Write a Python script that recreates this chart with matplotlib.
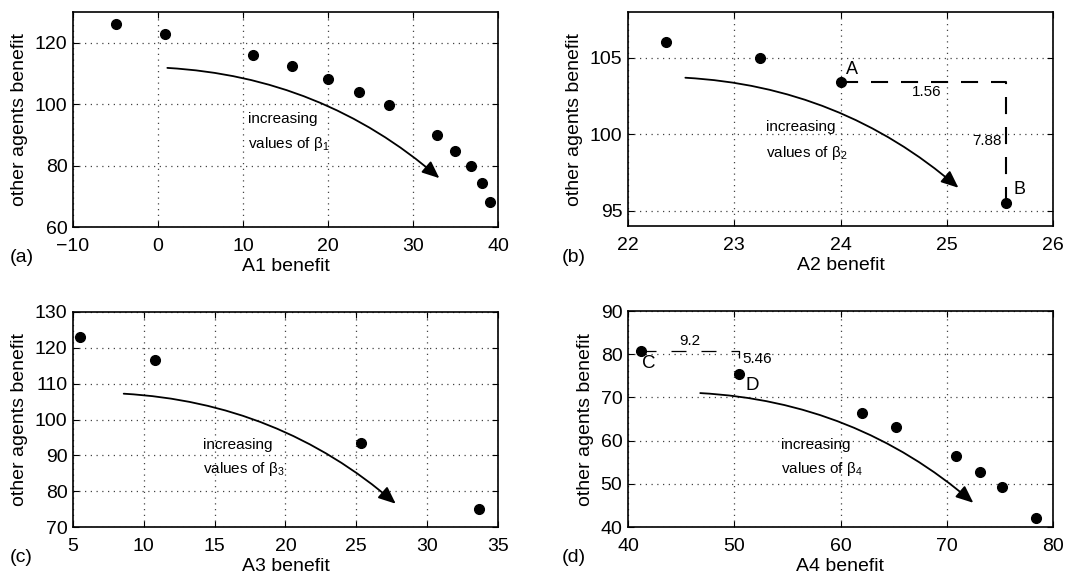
import matplotlib
matplotlib.use("Agg")
import matplotlib.pyplot as plt

plt.rcParams['font.family'] = ['Liberation Sans', 'DejaVu Sans']
plt.rcParams['mathtext.fontset'] = 'custom'
plt.rcParams['mathtext.rm'] = 'Liberation Sans'
plt.rcParams['mathtext.it'] = 'Liberation Sans:italic'

# ---- data ----
a1_x = [-5.0, 0.8, 11.2, 15.8, 20.0, 23.7, 27.2, 32.8, 35.0, 36.8, 38.1, 39.1]
a1_y = [126.0, 122.9, 116.0, 112.4, 108.3, 104.1, 99.7, 90.0, 84.8, 79.7, 74.2, 68.1]

a2_x = [22.36, 23.24, 24.00, 25.56]
a2_y = [106.05, 104.96, 103.40, 95.52]

a3_x = [5.47, 10.81, 25.3, 33.66]
a3_y = [123.0, 116.7, 93.5, 74.9]

a4_x = [41.25, 50.45, 62.0, 65.2, 70.84, 73.16, 75.23, 78.4]
a4_y = [80.8, 75.34, 66.4, 63.1, 56.4, 52.8, 49.2, 42.0]

xlabels = ['A1 benefit', 'A2 benefit', 'A3 benefit', 'A4 benefit']
ylabel = 'other agents benefit'
panel_tags = ['(a)', '(b)', '(c)', '(d)']

W, H = 1090, 575
fig = plt.figure(figsize=(W / 100, H / 100), dpi=100)

def make_ax(l, t, r, b):
    return fig.add_axes([l / W, 1 - b / H, (r - l) / W, (b - t) / H])

axes = [make_ax(73, 12, 498, 227), make_ax(628, 12, 1053, 226),
        make_ax(73, 312, 498, 527), make_ax(628, 311, 1053, 527)]

specs = [
    dict(x=a1_x, y=a1_y, xlim=(-10, 40), xt=range(-10, 41, 10), ylim=(60, 130), yt=range(60, 121, 20),
         arrow=((1.1, 111.8), (33.1, 75.9)), txt=(10.6, 95.2, 87.1), beta='1'),
    dict(x=a2_x, y=a2_y, xlim=(22, 26), xt=range(22, 27), ylim=(94, 108), yt=[95, 100, 105],
         arrow=((22.54, 103.7), (25.11, 96.5)), txt=(23.3, 100.45, 98.76), beta='2'),
    dict(x=a3_x, y=a3_y, xlim=(5, 35), xt=range(5, 36, 5), ylim=(70, 130), yt=range(70, 131, 10),
         arrow=((8.58, 107.2), (27.78, 76.5)), txt=(14.2, 93.0, 86.3), beta='3'),
    dict(x=a4_x, y=a4_y, xlim=(40, 80), xt=range(40, 81, 10), ylim=(40, 90), yt=range(40, 91, 10),
         arrow=((46.8, 71.0), (72.5, 45.6)), txt=(54.4, 59.0, 53.5), beta='4'),
]

for i, (ax, s) in enumerate(zip(axes, specs)):
    ax.plot(s['x'], s['y'], 'o', color='black', ms=7, zorder=5)
    ax.set_xlim(*s['xlim'])
    ax.set_ylim(*s['ylim'])
    ax.set_xticks(list(s['xt']))
    ax.set_yticks(list(s['yt']))
    ax.grid(True, color='#444444', linestyle=(0, (1, 3.6)), linewidth=0.9)
    ax.tick_params(direction='in', length=4, width=0.8, labelsize=14, top=True, right=True)
    ax.tick_params(axis='x', pad=8)
    ax.tick_params(axis='y', pad=4)
    for sp in ax.spines.values():
        sp.set_linewidth(1.2)
    ax.set_xlabel(xlabels[i], fontsize=14, labelpad=2)
    ax.set_ylabel(ylabel, fontsize=14, labelpad=5)
    (x0, y0), (x1, y1) = s['arrow']
    ax.annotate('', xy=(x1, y1), xytext=(x0, y0),
                arrowprops=dict(arrowstyle='-|>,head_length=0.75,head_width=0.32',
                                connectionstyle='arc3,rad=-0.17', color='black',
                                lw=1.3, mutation_scale=14, shrinkA=0, shrinkB=0))
    tx, ty1, ty2 = s['txt']
    ax.text(tx, ty1, 'increasing', fontsize=11, va='center', ha='left')
    ax.text(tx, ty2, r'values of $\mathrm{\beta}_{%s}$' % s['beta'], fontsize=11, va='center', ha='left')

fig.text(10 / W, 1 - 258 / H, panel_tags[0], fontsize=14, va='center')
fig.text(562 / W, 1 - 258 / H, panel_tags[1], fontsize=14, va='center')
fig.text(10 / W, 1 - 558 / H, panel_tags[2], fontsize=14, va='center')
fig.text(562 / W, 1 - 558 / H, panel_tags[3], fontsize=14, va='center')

# panel (b) annotations: A, B and dashed distances
axb = axes[1]
A = (a2_x[2], a2_y[2]); B = (a2_x[3], a2_y[3])
axb.plot([A[0], B[0], B[0]], [A[1], A[1], B[1]], color='black', lw=1.5,
         linestyle=(0, (8.2, 6.2)), zorder=4)
axb.text(A[0] + 0.05, A[1] + 0.3, 'A', fontsize=13, ha='left', va='bottom')
axb.text(B[0] + 0.07, B[1] + 0.3, 'B', fontsize=13, ha='left', va='bottom')
axb.text((A[0] + B[0]) / 2 + 0.03, A[1] - 0.2, '%.2f' % (B[0] - A[0]), fontsize=11, ha='center', va='top')
axb.text(B[0] - 0.04, (A[1] + B[1]) / 2 + 0.1, '%.2f' % (A[1] - B[1]), fontsize=11, ha='right', va='center')

# panel (d) annotations: C, D and dashed distances
axd = axes[3]
C = (a4_x[0], a4_y[0]); D = (a4_x[1], a4_y[1])
axd.plot([C[0], D[0], D[0]], [C[1], C[1], D[1]], color='black', lw=0.9,
         linestyle=(0, (12, 12)), zorder=4)
axd.text(C[0] + 0.1, C[1] - 1.0, 'C', fontsize=13.5, ha='left', va='top')
axd.text(D[0] + 0.6, D[1] - 0.6, 'D', fontsize=13.5, ha='left', va='top')
axd.text((C[0] + D[0]) / 2, C[1] + 0.6, '%.1f' % (D[0] - C[0]), fontsize=11, ha='center', va='bottom')
axd.text(D[0] + 0.35, C[1] - 2.0, '%.2f' % (C[1] - D[1]), fontsize=11, ha='left', va='center')

fig.savefig('out.png', dpi=100)
